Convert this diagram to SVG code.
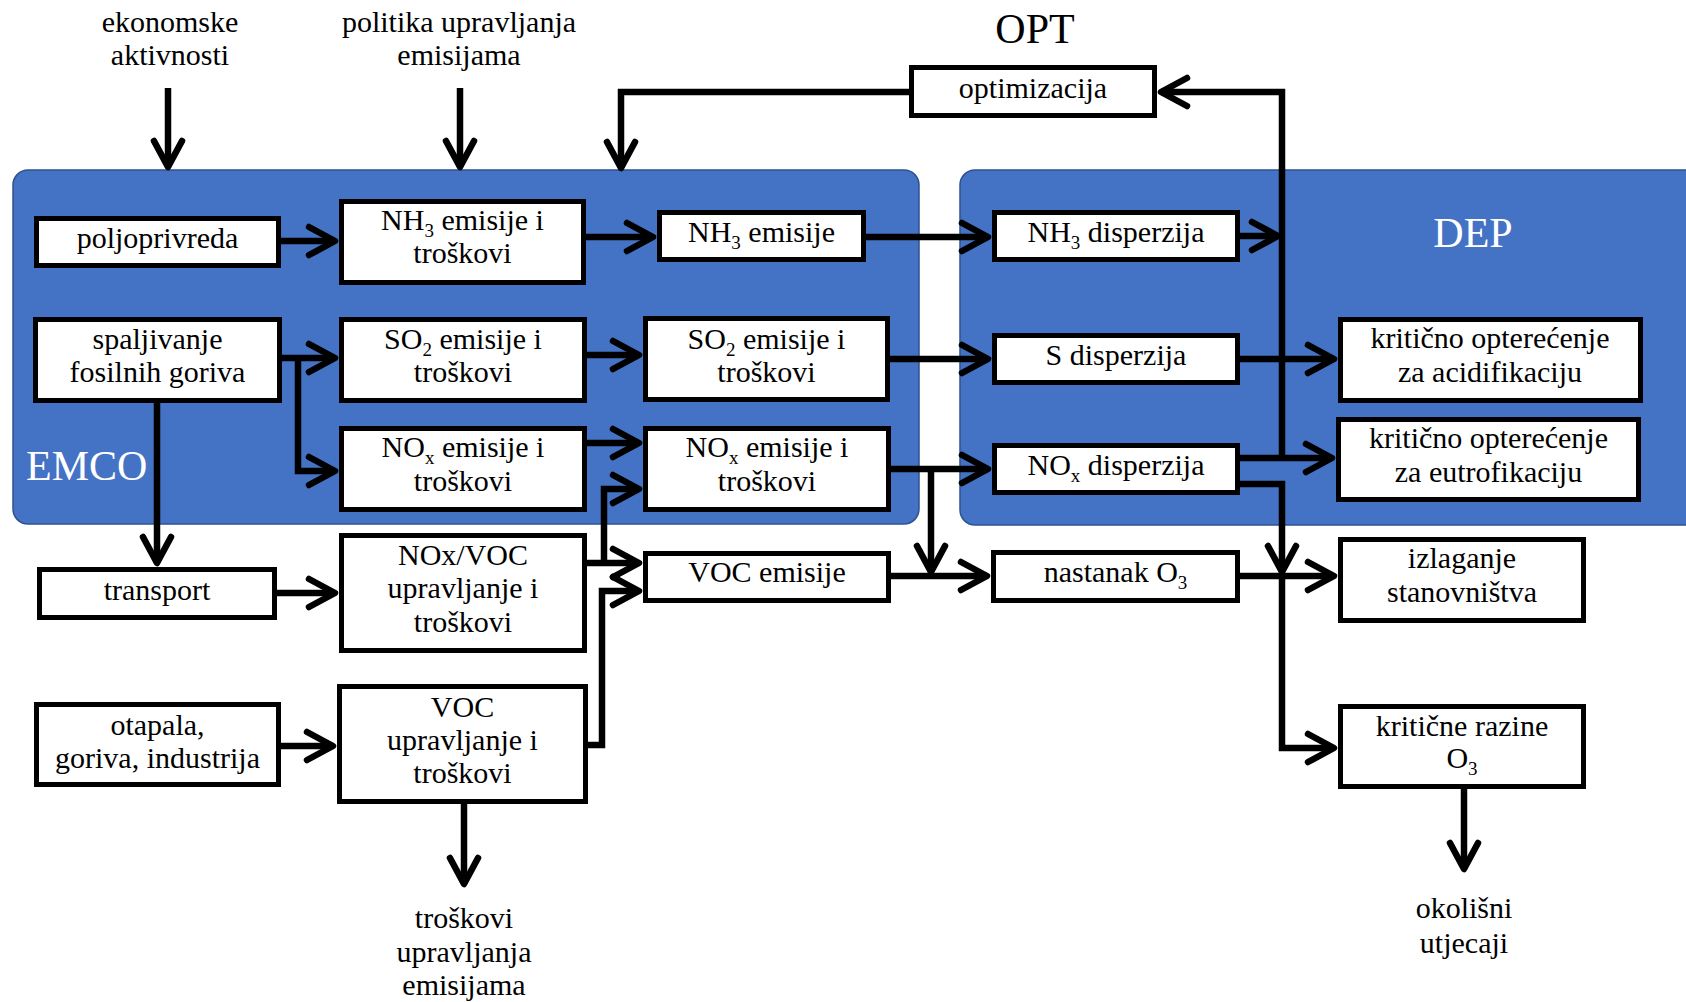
<svg xmlns="http://www.w3.org/2000/svg" width="1686" height="1002" viewBox="0 0 1686 1002">
<style>
.panel{fill:#4472C4;stroke:#2F528F;stroke-width:1.5}
.box{fill:#fff;stroke:#000;stroke-width:5}
text{font-family:"Liberation Serif","Times New Roman",serif;font-size:30px;fill:#000}
.c{text-anchor:middle}
.big{font-size:42px}
.w{fill:#fff}
.sub{font-size:19px}
.conn path{fill:none;stroke:#000;stroke-width:6.5;marker-end:url(#ah)}
</style>
<defs>
<marker id="ah" markerUnits="userSpaceOnUse" markerWidth="40" markerHeight="40" viewBox="-34 -20 40 40" refX="0" refY="0" orient="auto" overflow="visible">
<path d="M-26,-14 L0,0 L-26,14" fill="none" stroke="#000" stroke-width="6.5" stroke-linecap="round" stroke-linejoin="round"/>
</marker>
</defs>
<rect width="1686" height="1002" fill="#fff"/>
<g id="panel-emco">
<rect class="panel" x="13" y="170" width="906" height="354" rx="15"/>
<text class="big w" x="26" y="480">EMCO</text>
</g>
<g id="panel-dep">
<rect class="panel" x="960" y="170" width="760" height="355" rx="15"/>
<text class="big w c" x="1473" y="247">DEP</text>
</g>
<g id="label-opt"><text class="big c" x="1035" y="43">OPT</text></g>
<g id="label-ekon"><text class="c" x="170" y="32">ekonomske</text><text class="c" x="170" y="65">aktivnosti</text></g>
<g id="label-politika"><text class="c" x="459" y="32">politika upravljanja</text><text class="c" x="459" y="65">emisijama</text></g>
<g id="label-troskovi"><text class="c" x="464" y="928">troškovi</text><text class="c" x="464" y="962">upravljanja</text><text class="c" x="464" y="995">emisijama</text></g>
<g id="label-okolisni"><text class="c" x="1464" y="918">okolišni</text><text class="c" x="1464" y="953">utjecaji</text></g>

<g class="conn" id="connectors">
<path d="M168,88 V167"/>
<path d="M460,88 V167"/>
<path d="M909,92 H621 V168"/>
<path d="M1282,458 V92 H1161"/>
<path d="M281,241 H335"/>
<path d="M586,237 H653"/>
<path d="M866,237 H988"/>
<path d="M1240,236 H1278"/>
<path d="M282,358 H335"/>
<path d="M298,358 V471 H335"/>
<path d="M157,403 V563"/>
<path d="M587,355 H639"/>
<path d="M890,359 H988"/>
<path d="M587,443 H639"/>
<path d="M891,469 H988"/>
<path d="M931,469 V572"/>
<path d="M277,593 H335"/>
<path d="M587,563 H639"/>
<path d="M604,563 V489 H639"/>
<path d="M588,745 H602 V591 H639"/>
<path d="M281,746 H333"/>
<path d="M464,804 V884"/>
<path d="M891,576 H987"/>
<path d="M1240,359 H1334"/>
<path d="M1240,458 H1332"/>
<path d="M1240,484 H1282 V572"/>
<path d="M1240,576 H1334"/>
<path d="M1282,576 V748 H1334"/>
<path d="M1464,789 V869"/>
</g>

<g id="n-optimizacija"><rect class="box" x="911.5" y="67.5" width="243" height="48"/><text class="c" x="1033" y="98">optimizacija</text></g>
<g id="n-poljoprivreda"><rect class="box" x="36.5" y="218.5" width="242" height="47"/><text class="c" x="157.5" y="248">poljoprivreda</text></g>
<g id="n-nh3eit"><rect class="box" x="341.5" y="201.5" width="242" height="81"/><text class="c" x="462.5" y="230"><tspan>NH</tspan><tspan class="sub" dy="7">3</tspan><tspan dy="-7"> emisije i</tspan></text><text class="c" x="462.5" y="263">troškovi</text></g>
<g id="n-nh3e"><rect class="box" x="659.5" y="212.5" width="204" height="47"/><text class="c" x="761.5" y="242"><tspan>NH</tspan><tspan class="sub" dy="7">3</tspan><tspan dy="-7"> emisije</tspan></text></g>
<g id="n-nh3d"><rect class="box" x="994.5" y="212.5" width="243" height="47"/><text class="c" x="1116" y="242"><tspan>NH</tspan><tspan class="sub" dy="7">3</tspan><tspan dy="-7"> disperzija</tspan></text></g>
<g id="n-spaljivanje"><rect class="box" x="35.5" y="319.5" width="244" height="81"/><text class="c" x="157.5" y="349">spaljivanje</text><text class="c" x="157.5" y="382">fosilnih goriva</text></g>
<g id="n-so2eit"><rect class="box" x="341.5" y="319.5" width="243" height="81"/><text class="c" x="463" y="349"><tspan>SO</tspan><tspan class="sub" dy="7">2</tspan><tspan dy="-7"> emisije i</tspan></text><text class="c" x="463" y="382">troškovi</text></g>
<g id="n-so2e"><rect class="box" x="645.5" y="318.5" width="242" height="81"/><text class="c" x="766.5" y="349"><tspan>SO</tspan><tspan class="sub" dy="7">2</tspan><tspan dy="-7"> emisije i</tspan></text><text class="c" x="766.5" y="382">troškovi</text></g>
<g id="n-sdisp"><rect class="box" x="994.5" y="335.5" width="243" height="47"/><text class="c" x="1116" y="365">S disperzija</text></g>
<g id="n-acid"><rect class="box" x="1340.5" y="319.5" width="300" height="81"/><text class="c" x="1490" y="348">kritično opterećenje</text><text class="c" x="1490" y="382">za acidifikaciju</text></g>
<g id="n-noxeit"><rect class="box" x="341.5" y="428.5" width="243" height="81"/><text class="c" x="463" y="457"><tspan>NO</tspan><tspan class="sub" dy="7">x</tspan><tspan dy="-7"> emisije i</tspan></text><text class="c" x="463" y="491">troškovi</text></g>
<g id="n-noxe"><rect class="box" x="645.5" y="428.5" width="243" height="81"/><text class="c" x="767" y="457"><tspan>NO</tspan><tspan class="sub" dy="7">x</tspan><tspan dy="-7"> emisije i</tspan></text><text class="c" x="767" y="491">troškovi</text></g>
<g id="n-noxd"><rect class="box" x="994.5" y="445.5" width="243" height="47"/><text class="c" x="1116" y="475"><tspan>NO</tspan><tspan class="sub" dy="7">x</tspan><tspan dy="-7"> disperzija</tspan></text></g>
<g id="n-eutro"><rect class="box" x="1338.5" y="419.5" width="300" height="80"/><text class="c" x="1488.5" y="448">kritično opterećenje</text><text class="c" x="1488.5" y="482">za eutrofikaciju</text></g>
<g id="n-transport"><rect class="box" x="39.5" y="569.5" width="235" height="48"/><text class="c" x="157" y="600">transport</text></g>
<g id="n-noxvoc"><rect class="box" x="341.5" y="535.5" width="243" height="115"/><text class="c" x="463" y="565">NOx/VOC</text><text class="c" x="463" y="598">upravljanje i</text><text class="c" x="463" y="632">troškovi</text></g>
<g id="n-voce"><rect class="box" x="645.5" y="553.5" width="243" height="47"/><text class="c" x="767" y="582">VOC emisije</text></g>
<g id="n-nastanak"><rect class="box" x="993.5" y="552.5" width="244" height="48"/><text class="c" x="1115.5" y="582"><tspan>nastanak O</tspan><tspan class="sub" dy="7">3</tspan></text></g>
<g id="n-izlaganje"><rect class="box" x="1340.5" y="539.5" width="243" height="81"/><text class="c" x="1462" y="568">izlaganje</text><text class="c" x="1462" y="602">stanovništva</text></g>
<g id="n-otapala"><rect class="box" x="36.5" y="704.5" width="242" height="80"/><text class="c" x="157.5" y="735">otapala,</text><text class="c" x="157.5" y="768">goriva, industrija</text></g>
<g id="n-vocupr"><rect class="box" x="339.5" y="686.5" width="246" height="115"/><text class="c" x="462.5" y="717">VOC</text><text class="c" x="462.5" y="750">upravljanje i</text><text class="c" x="462.5" y="783">troškovi</text></g>
<g id="n-razine"><rect class="box" x="1340.5" y="706.5" width="243" height="80"/><text class="c" x="1462" y="736">kritične razine</text><text class="c" x="1462" y="768"><tspan>O</tspan><tspan class="sub" dy="7">3</tspan></text></g>
</svg>
